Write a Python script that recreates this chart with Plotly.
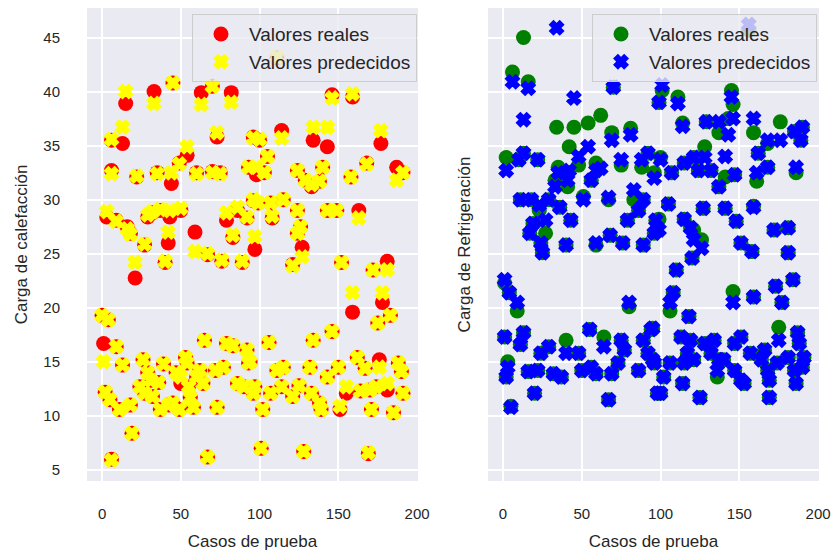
import plotly.graph_objects as go

# ---------------- data: Carga de calefacción ----------------
cal_x = [3, 6, 6, 9, 13, 15, 16, 18, 22, 21, 27, 29, 32, 33, 35, 37, 40, 42, 43, 44, 45, 49, 50, 54,
         59, 60, 63, 67, 70, 70, 73, 75, 76, 79, 82, 83, 86, 89, 92, 93, 96, 96, 97, 98, 99, 100,
         103, 105, 107, 108, 111, 114, 115, 121, 124, 124, 124, 126, 127, 129, 133, 138, 134, 140,
         143, 143, 146, 152, 149, 158, 168, 159, 163, 172, 177, 181, 187, 191, 159, 178, 175, 183,
         0, 4, 1, 9, 13, 2, 5, 11, 18, 19, 6, 29, 24, 27, 32, 37, 39, 36, 50, 54, 49, 45, 56, 58,
         62, 64, 65, 73, 67, 79, 83, 77, 72, 86, 90, 92, 93, 96, 94, 115, 111, 132, 143, 150, 162,
         167, 176, 188, 190, 97, 107, 114, 125, 121, 133, 138, 155, 164, 170, 174, 181, 191, 102,
         139, 151, 171, 185, 101, 128, 169, 106, 134, 146, 55, 60, 53, 47, 42, 31, 26]
cal_real = [28.4, 32.7, 35.5, 28.1, 35.2, 38.9, 27.5, 26.9, 32.1, 22.75, 25.8, 28.4, 28.8, 40.0,
            32.5, 29.0, 24.2, 26.0, 28.4, 31.5, 40.8, 33.4, 29.0, 34.1, 27.0, 32.5, 39.9, 24.9,
            40.5, 32.6, 35.8, 32.5, 24.3, 28.1, 39.9, 26.5, 29.0, 24.2, 28.3, 33.0, 35.8, 29.9,
            25.4, 32.3, 29.7, 35.5, 32.5, 34.0, 29.7, 28.3, 43.1, 36.4, 30.0, 24.0, 32.7, 29.0,
            26.9, 27.5, 25.6, 31.8, 31.2, 31.7, 35.5, 33.0, 34.9, 29.0, 39.7, 24.2, 29.0, 32.1,
            33.4, 39.5, 29.0, 23.5, 35.2, 24.3, 33.0, 32.5, 19.6, 20.5, 18.6, 19.3,
            19.3, 18.9, 16.7, 16.4, 14.7, 12.2, 11.5, 10.6, 11.0, 8.4, 6.0, 14.0, 12.7, 12.1,
            11.8, 10.6, 14.8, 13.1, 13.0, 14.9, 10.6, 11.2, 11.7, 10.8, 14.2, 13.0, 17.0, 10.8,
            6.2, 16.7, 16.5, 14.5, 14.2, 13.0, 12.7, 16.1, 14.9, 12.1, 15.0, 14.5, 14.2, 14.5,
            13.6, 14.5, 15.4, 14.4, 15.2, 14.9, 14.1, 12.7, 12.1, 12.7, 12.8, 11.8, 12.1, 11.2,
            12.1, 12.3, 12.4, 12.7, 12.4, 12.1, 10.6, 10.6, 10.6, 10.6, 10.3, 7.0, 6.7, 6.5,
            16.8, 17.0, 17.8, 12.7, 13.6, 15.4, 14.0, 11.0, 13.3, 15.2]
cal_pred = [28.9, 32.4, 35.6, 28.0, 36.7, 40.0, 27.3, 26.8, 32.2, 24.2, 25.9, 28.6, 28.9, 38.9,
            32.4, 29.1, 24.3, 27.0, 29.0, 32.5, 40.8, 33.3, 29.2, 34.9, 25.2, 32.4, 38.8, 25.0,
            40.5, 32.5, 36.2, 32.4, 24.4, 28.8, 39.0, 26.7, 29.3, 24.3, 28.4, 33.0, 35.7, 30.0,
            26.6, 33.0, 29.7, 35.6, 32.5, 34.0, 29.7, 28.5, 43.2, 35.7, 30.0, 23.9, 32.7, 29.0,
            26.9, 27.5, 24.7, 31.8, 31.4, 31.7, 36.7, 33.0, 36.7, 29.0, 39.4, 24.2, 29.0, 32.1,
            33.3, 39.8, 28.3, 23.5, 36.4, 23.5, 31.8, 32.5, 21.4, 21.4, 18.6, 19.3,
            19.3, 18.9, 15.0, 16.4, 14.7, 12.2, 11.5, 10.6, 11.0, 8.4, 5.9, 14.0, 12.7, 12.1,
            11.8, 10.6, 14.8, 13.1, 13.6, 14.9, 10.6, 11.2, 11.7, 10.8, 14.2, 13.0, 17.0, 10.8,
            6.2, 16.7, 16.5, 14.5, 14.2, 13.0, 12.7, 16.1, 14.9, 12.1, 15.0, 14.5, 14.2, 14.5,
            13.6, 14.5, 15.4, 14.4, 14.5, 14.9, 14.1, 12.7, 12.1, 12.7, 12.8, 11.8, 12.1, 11.2,
            12.7, 12.3, 12.4, 12.7, 13.0, 12.1, 10.6, 10.6, 10.9, 10.6, 10.3, 7.0, 6.7, 6.6,
            16.8, 17.0, 17.8, 12.7, 13.6, 15.4, 14.0, 11.0, 13.3, 15.2]

# ---------------- data: Carga de Refrigeración ----------------
ref_x = [13, 34, 6, 16, 70, 45, 54, 62, 81, 69, 42, 2, 10, 13, 22, 35, 33, 41, 48, 59, 56, 75,
         88, 92, 96, 51, 67, 11, 18, 29, 36, 23, 83, 89, 79, 86, 19, 27, 43, 97, 17, 24, 25, 40,
         59, 68, 76, 89, 96,
         99, 101, 111, 145, 146, 114, 129, 137, 143, 159, 176, 168, 185, 190, 189, 162, 168, 161,
         100, 107, 115, 121, 128, 124, 132, 141, 147, 137, 186, 105, 127, 141, 148, 159, 115, 119,
         99, 172, 181, 121, 126, 120, 151, 158, 181, 110, 156,
         1, 4, 9, 80, 106, 108, 146, 159, 173, 177, 184, 118, 95,
         1, 13, 11, 3, 2, 16, 24, 29, 22, 32, 40, 37, 48, 50, 55, 64, 56, 59, 69, 75, 77, 73, 86,
         89, 94, 92, 96, 20, 5, 67, 98,
         113, 119, 128, 134, 147, 151, 175, 187, 188, 117, 106, 115, 121, 132, 137, 140, 136, 102,
         100, 114, 147, 151, 153, 157, 164, 166, 168, 169, 174, 181, 185, 186, 191, 190, 125, 169,
         95]
ref_real = [45.0, 36.7, 41.8, 40.9, 40.4, 36.7, 37.1, 37.8, 36.6, 36.2, 34.9, 33.9, 33.7, 34.3,
            33.7, 33.0, 31.8, 31.2, 33.2, 33.4, 31.8, 33.2, 33.0, 34.3, 32.5, 30.3, 30.0, 30.0,
            30.0, 30.0, 29.3, 29.0, 30.0, 30.0, 28.1, 29.0, 27.8, 26.9, 28.1, 28.1, 26.9, 26.0,
            25.1, 25.8, 25.8, 26.7, 26.0, 25.8, 26.9,
            39.0, 40.1, 39.5, 40.1, 38.8, 37.1, 37.2, 36.2, 37.5, 36.2, 37.2, 35.2, 36.3, 36.7,
            35.5, 34.3, 33.0, 31.7, 33.9, 32.5, 33.4, 33.9, 34.9, 32.7, 32.7, 32.1, 32.3, 31.2,
            32.5, 29.6, 29.2, 29.2, 28.0, 29.4, 28.2, 27.4, 28.2, 27.2, 27.4, 27.2, 26.3, 24.6,
            26.0, 25.2, 25.1, 23.5, 45.7,
            22.3, 21.4, 19.7, 20.1, 19.7, 21.4, 21.5, 21.0, 22.0, 20.5, 22.6, 19.2, 18.1,
            17.3, 17.7, 16.6, 15.0, 13.6, 14.1, 15.8, 16.4, 14.2, 13.9, 17.0, 13.6, 15.8, 14.2,
            18.0, 17.3, 14.5, 13.9, 13.9, 17.0, 16.1, 14.9, 14.2, 17.0, 18.0, 15.8, 14.9, 12.1,
            10.9, 11.5, 12.1,
            17.3, 17.0, 16.7, 17.0, 16.7, 17.3, 18.2, 17.7, 16.7, 15.8, 14.9, 14.9, 15.2, 15.8,
            15.2, 15.2, 13.6, 13.6, 12.1, 13.0, 14.2, 13.3, 13.0, 15.8, 15.2, 16.1, 14.2, 13.3,
            14.9, 15.4, 14.2, 13.0, 15.4, 14.5, 11.7, 11.7, 15.2]
ref_pred = [37.4, 45.9, 40.9, 40.3, 40.4, 39.4, 34.9, 32.9, 36.0, 35.5, 32.7, 32.7, 33.7, 34.3,
            33.7, 32.5, 31.2, 31.8, 34.0, 32.7, 31.8, 33.7, 33.7, 34.3, 32.0, 30.0, 30.2, 30.0,
            30.0, 30.0, 29.3, 29.5, 30.9, 30.0, 28.1, 29.0, 27.8, 28.1, 28.1, 28.1, 26.9, 26.0,
            25.1, 25.8, 26.0, 26.7, 26.0, 25.8, 26.9,
            39.0, 40.6, 38.9, 39.5, 37.5, 36.8, 37.2, 37.2, 36.0, 37.5, 35.5, 35.5, 36.3, 36.7,
            35.5, 34.3, 33.0, 32.5, 33.7, 32.5, 33.4, 33.9, 33.9, 32.7, 32.7, 34.0, 32.3, 31.2,
            33.0, 29.6, 29.2, 29.2, 28.0, 29.3, 28.2, 27.4, 27.2, 27.2, 27.4, 26.3, 25.5, 24.6,
            26.0, 25.2, 25.1, 23.5, 46.2,
            22.6, 21.4, 20.5, 20.5, 20.5, 21.4, 20.5, 21.0, 22.0, 20.5, 22.6, 19.2, 18.1,
            17.3, 17.7, 16.6, 14.5, 13.6, 14.1, 15.8, 16.4, 14.2, 13.9, 15.8, 13.6, 15.8, 14.2,
            18.0, 16.4, 14.5, 13.9, 13.9, 17.0, 16.1, 14.9, 14.2, 17.0, 18.0, 15.8, 14.9, 12.1,
            10.8, 11.5, 12.1,
            17.3, 17.0, 16.7, 17.0, 16.7, 17.3, 17.0, 17.7, 16.7, 15.8, 14.9, 14.9, 15.2, 15.8,
            15.2, 15.2, 14.2, 13.6, 12.1, 13.0, 14.2, 13.3, 13.0, 15.8, 15.2, 16.1, 14.2, 13.3,
            14.9, 15.4, 14.2, 13.0, 15.4, 14.5, 11.7, 11.7, 15.2]

x_ticks = [0, 50, 100, 150, 200]
y_ticks = [5, 10, 15, 20, 25, 30, 35, 40, 45]
label_real = "Valores reales"
label_pred = "Valores predecidos"

FONT = "Liberation Sans, Arial, sans-serif"
TXT = "#262626"


def real_marker(color):
    return dict(symbol="circle", size=15, color=color, line=dict(width=0))


def pred_marker(color):
    return dict(symbol="x", size=11, color=color, line=dict(width=2.5, color=color))


fig = go.Figure()
fig.add_trace(go.Scatter(x=cal_x, y=cal_real, mode="markers", name=label_real,
                         marker=real_marker("#FF0000"), xaxis="x", yaxis="y", legend="legend"))
fig.add_trace(go.Scatter(x=cal_x, y=cal_pred, mode="markers", name=label_pred,
                         marker=pred_marker("#FFFF00"), xaxis="x", yaxis="y", legend="legend"))
fig.add_trace(go.Scatter(x=ref_x, y=ref_real, mode="markers", name=label_real,
                         marker=real_marker("#008000"), xaxis="x2", yaxis="y2", legend="legend2"))
fig.add_trace(go.Scatter(x=ref_x, y=ref_pred, mode="markers", name=label_pred,
                         marker=pred_marker("#0000FF"), xaxis="x2", yaxis="y2", legend="legend2"))

axis_common = dict(showgrid=True, gridcolor="white", gridwidth=1.5, zeroline=False,
                   showline=False, ticks="", automargin=False,
                   tickfont=dict(family=FONT, size=15, color=TXT))
title_font = dict(family=FONT, size=17, color=TXT)
legend_common = dict(yanchor="top", y=0.987, xanchor="right",
                     bgcolor="rgba(234,234,242,0.8)", bordercolor="#CCCCCC", borderwidth=1,
                     font=dict(family=FONT, size=19, color=TXT), itemwidth=46)

fig.update_layout(
    width=835, height=551,
    margin=dict(l=87, r=16, t=8, b=70, autoexpand=False),
    paper_bgcolor="white", plot_bgcolor="#EAEAF2",
    font=dict(family=FONT, color=TXT),
    xaxis=dict(domain=[0, 0.4522], range=[-9.55, 200.55], tickvals=x_ticks,
               ticklabelstandoff=22,
               title=dict(text="Casos de prueba", font=title_font, standoff=14),
               **axis_common),
    xaxis2=dict(domain=[0.5478, 1], range=[-9.55, 200.55], tickvals=x_ticks,
                ticklabelstandoff=22,
                title=dict(text="Casos de prueba", font=title_font, standoff=14),
                **axis_common),
    yaxis=dict(range=[3.98, 47.73], tickvals=y_ticks, anchor="x", ticklabelstandoff=26,
               title=dict(text="Carga de calefacción", font=title_font, standoff=11),
               **axis_common),
    yaxis2=dict(range=[3.98, 47.73], tickvals=y_ticks, anchor="x2", showticklabels=False,
                title=dict(text="Carga de Refrigeración", font=title_font, standoff=12),
                **axis_common),
    legend=dict(x=0.4508, **legend_common),
    legend2=dict(x=0.9973, **legend_common),
)

fig.write_html("out.html")
